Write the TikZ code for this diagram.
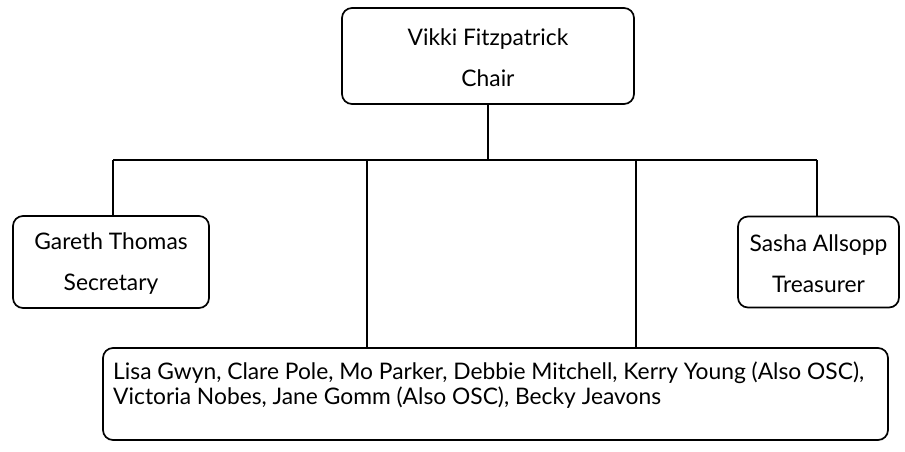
\documentclass[tikz,border=0pt]{standalone}
\usepackage{fontspec}
\setmainfont{Lato}
\begin{document}
\begin{tikzpicture}[x=1pt,y=-1pt,
  box/.style={draw=black, line width=1.7pt, rounded corners=10pt, inner sep=0pt},
  wire/.style={draw=black, line width=1.7pt},
  lbl/.style={font=\fontsize{22.8}{25}\selectfont, align=center, inner sep=0pt}]
\useasboundingbox (0,0) rectangle (905,451);
\node[box, minimum width=292pt, minimum height=96pt] (chair) at (488,56) {};
\node[lbl] (chairtxt) at (488,57.5) {Vikki Fitzpatrick\\[16pt]Chair};
\node[box, minimum width=196pt, minimum height=92pt] (gareth) at (111,262) {};
\node[lbl] (garethtxt) at (111,264) {Gareth Thomas\\[16pt]Secretary};
\node[box, minimum width=161pt, minimum height=91pt] (sasha) at (818.5,262) {};
\node[lbl] (sashatxt) at (818.5,264) {Sasha Allsopp\\[16pt]Treasurer};
\node[box, minimum width=785pt, minimum height=92pt] (team) at (495.5,394) {};
\node[lbl, align=left, anchor=north west] (teamtxt) at (113,362) {Lisa Gwyn, Clare Pole, Mo Parker, Debbie Mitchell, Kerry Young (Also OSC),\\Victoria Nobes, Jane Gomm (Also OSC), Becky Jeavons};
\coordinate (busL) at (113,160);
\coordinate (busR) at (817,160);
\coordinate (t1) at (367,160);
\coordinate (t2) at (636,160);
\draw[wire] (busL) -- (busR);
\draw[wire] (chair.south) -- (chair.south |- busL);
\draw[wire] (busL) -- (busL |- gareth.north);
\draw[wire] (busR) -- (busR |- sasha.north);
\draw[wire] (t1) -- (t1 |- team.north);
\draw[wire] (t2) -- (t2 |- team.north);
\end{tikzpicture}
\end{document}
